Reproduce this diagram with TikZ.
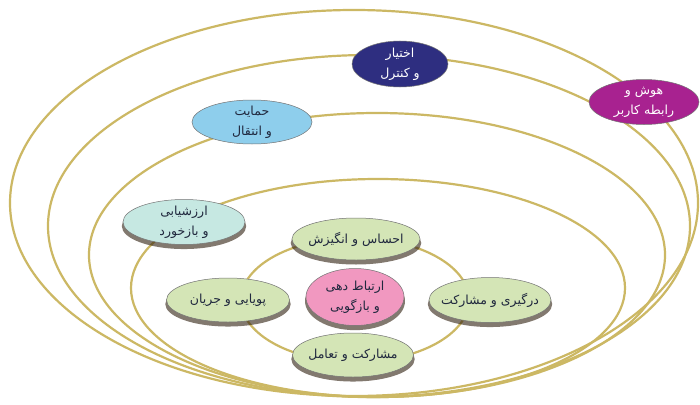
\documentclass[tikz,border=0pt]{standalone}
\usepackage{fontspec}
\newfontfamily\arabicfont[Script=Arabic]{DejaVu Sans}
\TeXXeTstate=1
\usetikzlibrary{shapes.geometric,shadows}
\definecolor{ringgold}{RGB}{204,184,100}
\definecolor{navyfill}{RGB}{46,46,128}
\definecolor{magfill}{RGB}{168,34,144}
\definecolor{bluefill}{RGB}{142,206,236}
\definecolor{tealfill}{RGB}{198,232,226}
\definecolor{greenfill}{RGB}{212,229,182}
\definecolor{pinkfill}{RGB}{241,152,192}
\definecolor{darktext}{RGB}{32,40,62}
\tikzset{
  ring/.style={draw=ringgold, line width=2.2pt},
  bubble/.style={ellipse, draw=black!55, line width=0.5pt, inner xsep=-30pt, inner ysep=-20pt,
    align=center, font=\arabicfont\fontsize{12.5}{20}\selectfont},
  darkbubble/.style={bubble, text=white},
  lightbubble/.style={bubble, text=darktext,
    drop shadow={shadow xshift=0pt, shadow yshift=-4pt, shadow scale=1.02, fill=black!75!brown, opacity=0.6}},
}
\begin{document}
\begin{tikzpicture}[x=1pt,y=-1pt]
\useasboundingbox[fill=white] (0,0) rectangle (700,404);
% rings
\draw[ring] (354,203) ellipse [x radius=344pt, y radius=193pt];
\draw[ring] (369,226) ellipse [x radius=321pt, y radius=171pt];
\draw[ring] (377,255) ellipse [x radius=288pt, y radius=142pt];
\draw[ring] (378,288) ellipse [x radius=247pt, y radius=109pt];
\draw[ring] (355,300) ellipse [x radius=114pt, y radius=62pt];
% nodes
\node[darkbubble, fill=navyfill, minimum width=96pt, minimum height=46pt] (ekhtiar) at (400,64)
  {\beginR اختیار\endR\\\beginR و کنترل\endR};
\node[darkbubble, fill=magfill, minimum width=110pt, minimum height=45pt] (hoosh) at (644,102)
  {\beginR هوش و\endR\\\beginR رابطه کاربر\endR};
\node[bubble, text=darktext, fill=bluefill, minimum width=120pt, minimum height=44pt] (hemayat) at (252,122)
  {\beginR حمایت\endR\\\beginR و انتقال\endR};
\node[lightbubble, fill=tealfill, minimum width=122pt, minimum height=45pt] (arzeshyabi) at (184,222)
  {\beginR ارزشیابی\endR\\\beginR و بازخورد\endR};
\node[lightbubble, fill=greenfill, minimum width=128pt, minimum height=42pt] (ehsas) at (356,239)
  {\beginR احساس و انگیزش\endR};
\node[lightbubble, fill=pinkfill, minimum width=98pt, minimum height=57pt] (ertebat) at (355,297)
  {\beginR ارتباط دهی\endR\\\beginR و بازگویی\endR};
\node[lightbubble, fill=greenfill, minimum width=123pt, minimum height=44pt] (pouyayi) at (228,300)
  {\beginR پویایی و جریان\endR};
\node[lightbubble, fill=greenfill, minimum width=122pt, minimum height=45pt] (dargiri) at (490,300)
  {\beginR درگیری و مشارکت\endR};
\node[lightbubble, fill=greenfill, minimum width=121pt, minimum height=44pt] (mosharekat) at (353,355)
  {\beginR مشارکت و تعامل\endR};
\end{tikzpicture}
\end{document}
